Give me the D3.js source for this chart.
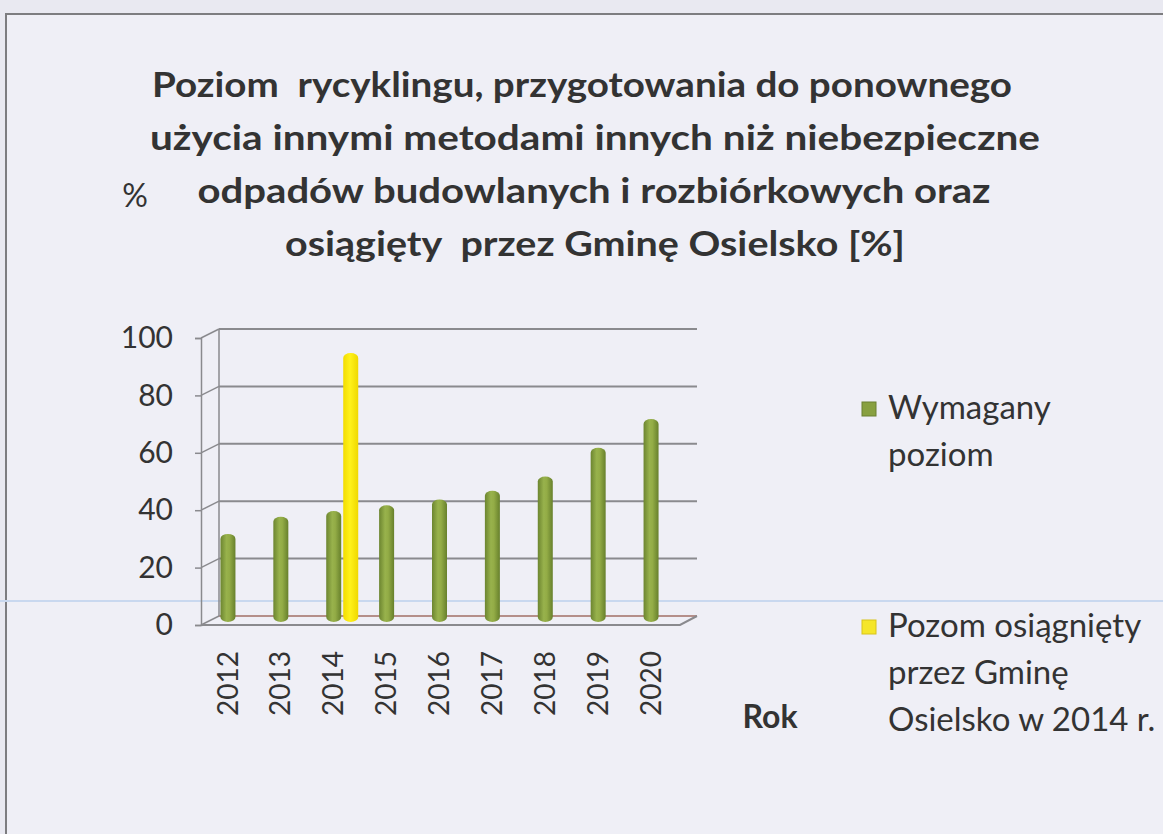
<!DOCTYPE html>
<html>
<head>
<meta charset="utf-8">
<script src="https://cdn.jsdelivr.net/npm/d3@7"></script>
<style>
  body { margin: 0; background: #eeeef5; }
  text { font-family: Lato, "Open Sans", sans-serif; fill: #333; white-space: pre; }
</style>
</head>
<body>
<div id="chart"></div>
<script>
// chart data
var years = ["2012", "2013", "2014", "2015", "2016", "2017", "2018", "2019", "2020"];
var required = [30, 36, 38, 40, 42, 45, 50, 60, 70];
var achievedYear = "2014";
var achieved = [93];
var series = ["Wymagany poziom", "Pozom osiągnięty przez Gminę Osielsko w 2014 r."];
var yTicks = [0, 20, 40, 60, 80, 100];
var titleLines = [
    "Poziom  rycyklingu, przygotowania do ponownego",
    "użycia innymi metodami innych niż niebezpieczne",
    "odpadów budowlanych i rozbiórkowych oraz",
    "osiągięty  przez Gminę Osielsko [%]"
];
var legendLines = [["Wymagany", "poziom"], ["Pozom osiągnięty", "przez Gminę", "Osielsko w 2014 r."]];

var width = 1163, height = 834;
var depth = { dx: 18, dy: -9 };   // 3d offset from front to back wall

var svg = d3.select("#chart")
    .append("svg")
    .attr("width", width)
    .attr("height", height);

// page background + scan border
svg.append("rect").attr("width", width).attr("height", height).attr("fill", "#e9e9f1");
svg.append("rect").attr("x", 6).attr("y", 14).attr("width", width).attr("height", height)
    .attr("fill", "#efeff6").attr("stroke", "#7d7d80").attr("stroke-width", 2);

// gradients for the cylinders
var defs = svg.append("defs");
function cylGrad(id, stops) {
    var g = defs.append("linearGradient").attr("id", id)
        .attr("x1", "0%").attr("x2", "100%").attr("y1", "0%").attr("y2", "0%");
    stops.forEach(function (s) {
        g.append("stop").attr("offset", s[0]).attr("stop-color", s[1]);
    });
}
cylGrad("gGreen", [["0%", "#6c8530"], ["40%", "#98b24c"], ["60%", "#93ac46"], ["100%", "#67802c"]]);
cylGrad("gYellow", [["0%", "#f2dc00"], ["45%", "#fff21a"], ["100%", "#efd800"]]);

// scales
var x = d3.scaleBand()
    .domain(years)
    .range([201, 677]);
var xs = d3.scaleBand()
    .domain(series)
    .range([-8, 26]);
var y = d3.scaleLinear()
    .domain([0, 100])
    .range([625, 338]);

// title
var title = svg.append("g");
var titleX = [582, 595, 594, 595];
var titleW = [860, 890, 793, 620];
titleLines.forEach(function (t, i) {
    title.append("text")
        .attr("x", titleX[i])
        .attr("y", 97 + i * 53)
        .attr("text-anchor", "middle")
        .attr("font-size", 35)
        .attr("font-weight", "bold")
        .attr("textLength", titleW[i])
        .attr("lengthAdjust", "spacingAndGlyphs")
        .text(t);
});

// y axis title
svg.append("text")
    .attr("x", 135).attr("y", 207)
    .attr("text-anchor", "middle")
    .attr("font-size", 32)
    .text("%");

// scan artefact line
svg.append("line")
    .attr("x1", 0).attr("x2", width).attr("y1", 601).attr("y2", 601)
    .attr("stroke", "#c9d8ef").attr("stroke-width", 2);

var x0 = x.range()[0], x1 = x.range()[1];
var grid = svg.append("g");

// back wall gridlines and left wall connectors
yTicks.forEach(function (t) {
    grid.append("line")
        .attr("x1", x0 + depth.dx).attr("x2", x1 + depth.dx + 2)
        .attr("y1", y(t) + depth.dy).attr("y2", y(t) + depth.dy)
        .attr("stroke", t === 0 ? "#b58f8a" : "#8a8a8e")
        .attr("stroke-width", 2);
    grid.append("line")
        .attr("x1", x0).attr("x2", x0 + depth.dx)
        .attr("y1", y(t)).attr("y2", y(t) + depth.dy)
        .attr("stroke", "#8a8a8e").attr("stroke-width", 1.5);
});

// back wall left edge
grid.append("line")
    .attr("x1", x0 + depth.dx).attr("x2", x0 + depth.dx)
    .attr("y1", y(100) + depth.dy).attr("y2", y(0) + depth.dy)
    .attr("stroke", "#8a8a8e").attr("stroke-width", 1.5);

// floor front edge + right edge
grid.append("path")
    .attr("d", "M" + x0 + "," + y(0) + "L" + (x1 + 3) + "," + y(0) +
        "L" + (x1 + depth.dx + 2) + "," + (y(0) + depth.dy))
    .attr("fill", "none").attr("stroke", "#8a8a8e").attr("stroke-width", 2);

// front vertical axis + ticks
var yAxis = d3.axisLeft(y).tickValues(yTicks).tickSize(6).tickPadding(10);
var ya = svg.append("g")
    .attr("transform", "translate(" + x0 + ",0)")
    .call(yAxis);
ya.select(".domain").attr("stroke", "#8a8a8e").attr("stroke-width", 1.5);
ya.selectAll(".tick line").attr("stroke", "#8a8a8e").attr("stroke-width", 1.5);
ya.selectAll(".tick text")
    .attr("font-family", "Lato, 'Open Sans', sans-serif")
    .attr("font-size", 30)
    .attr("fill", "#333")
    .attr("dx", -12);

// x axis labels (rotated)
var xAxis = d3.axisBottom(x).tickSize(0).tickPadding(0);
var xa = svg.append("g")
    .attr("transform", "translate(0," + (y(0) + 26) + ")")
    .call(xAxis);
xa.select(".domain").remove();
xa.selectAll(".tick text")
    .attr("font-family", "Lato, 'Open Sans', sans-serif")
    .attr("font-size", 28)
    .attr("fill", "#333")
    .attr("transform", "rotate(-90)")
    .attr("text-anchor", "end")
    .attr("x", 0)
    .attr("y", 0)
    .attr("dy", "0.36em");

// x axis title
svg.append("text")
    .attr("x", 770).attr("y", 728)
    .attr("text-anchor", "middle")
    .attr("font-size", 32)
    .attr("font-weight", "bold")
    .text("Rok");

// cylinders
var bw = 15;
var baseY = y(0) - 3;
function cylinder(g, cx, v, fill) {
    g.append("rect")
        .attr("x", cx - bw / 2)
        .attr("y", y(v) - 5)
        .attr("width", bw)
        .attr("height", baseY - y(v) + 5)
        .attr("rx", bw / 2)
        .attr("ry", 5)
        .attr("fill", fill);
}
var bars = svg.append("g");
years.forEach(function (yr, i) {
    var c = x(yr) + x.bandwidth() / 2;
    cylinder(bars, c + xs(series[0]) + xs.bandwidth() / 2, required[i], "url(#gGreen)");
    if (yr === achievedYear) {
        cylinder(bars, c + xs(series[1]) + xs.bandwidth() / 2, achieved[0], "url(#gYellow)");
    }
});

// legend
var legend = svg.append("g");
var legendY = [419, 637];
var legendFill = ["#88a040", "#f5e62a"];
legendLines.forEach(function (lines, i) {
    legend.append("rect")
        .attr("x", 862).attr("y", legendY[i] - 17)
        .attr("width", 14).attr("height", 14)
        .attr("fill", legendFill[i])
        .attr("stroke", i === 0 ? "#6b8030" : "#d8c41a")
        .attr("stroke-width", 1);
    lines.forEach(function (l, j) {
        legend.append("text")
            .attr("x", 888)
            .attr("y", legendY[i] + j * 47)
            .attr("font-size", 33)
            .text(l);
    });
});
</script>
</body>
</html>
